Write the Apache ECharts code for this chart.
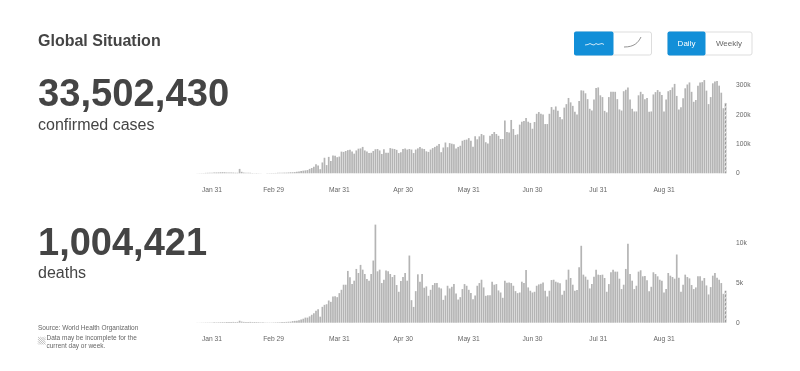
<!DOCTYPE html>
<html><head><meta charset="utf-8">
<style>html,body{margin:0;padding:0;background:#fff}#c{width:800px;height:371px}</style>
<script src="https://cdn.jsdelivr.net/npm/echarts@6/dist/echarts.min.js"></script>
</head><body><div id="c"></div>
<script>
const tickLabels = ['Jan 31','Feb 29','Mar 31','Apr 30','May 31','Jun 30','Jul 31','Aug 31'];
const monthNames = ['Jan','Feb','Mar','Apr','May','Jun','Jul','Aug','Sep'];
const monthLengths = [31,29,31,30,31,30,31,31,30];
// daily confirmed cases, thousands, Jan 24 .. Sep 29
const confirmedDaily = [
0.3,0.5,0.7,0.8,1.5,1.7,2,2,
2.5,2.8,3,3.5,3.8,3.5,3,2.8,2.6,2.5,2,2,15,
5,2.5,2,2,1.8,1,0.6,1,0.6,0.4,0.4,0.5,0.7,0.8,1,1.1,1.2,
1.8,2,1.9,2.2,2.3,2.8,3.5,3.5,4,5,6,7.5,9,10,11,15,18,22,
31,27,14,37,53,28,56,42,61,60,55,57,74,73,76,79,80,74,67,78,84,85,90,78,74,69,70,76,82,83,78,66,82,70,70,86,
84,83,80,69,72,83,85,81,83,81,69,81,85,90,85,83,75,73,81,86,90,94,100,72,88,105,89,103,101,99,85,90,94,111,114,115,120,111,91,126,116,126,134,130,106,102,128,134,141,134,128,117,117,180,141,139,182,151,131,133,166,176,178,189,176,172,152,175,203,209,203,201,168,168,203,226,217,228,213,192,184,224,236,257,
242,230,210,201,247,283,282,273,253,220,214,252,291,293,266,260,213,208,260,278,278,278,253,218,214,280,285,293,252,220,211,211,266,278,270,253,257,210,211,269,277,284,278,267,211,252,280,284,293,305,264,218,225,256,290,303,310,278,244,250,299,310,311,318,282,236,260,307,313,315,299,275,222,240];
// daily deaths, thousands, Jan 24 .. Sep 29
const deathsDaily = [
0.01,0.01,0.02,0.02,0.03,0.03,0.04,0.04,
0.05,0.05,0.06,0.07,0.08,0.07,0.08,0.09,0.1,0.1,0.09,0.1,0.25,
0.14,0.1,0.1,0.1,0.1,0.08,0.09,0.08,0.07,0.05,0.05,0.04,0.03,0.03,0.03,0.04,0.05,
0.06,0.07,0.08,0.09,0.1,0.12,0.13,0.2,0.23,0.25,0.3,0.4,0.5,0.64,0.64,0.8,1.0,1.2,
1.5,1.7,0.76,2.0,2.25,2.33,2.8,2.63,3.3,3.35,3.22,3.73,4.15,4.79,4.79,6.53,5.72,4.87,5.3,6.78,6.27,7.29,6.69,6.14,5.51,5.3,6.14,7.84,12.37,6.48,6.69,5.0,5.42,6.57,6.48,6.14,
5.76,6.02,4.75,3.9,5.25,5.76,6.27,5.3,8.47,2.84,1.99,3.98,6.1,5.17,6.14,4.41,4.58,3.39,4.15,4.75,5,5,4.45,4.32,2.88,3.43,4.66,4.32,4.53,4.87,3.69,2.92,3.22,4.24,4.87,4.66,4.15,3.73,2.97,3.43,4.66,5,5.42,4.45,3.39,3.47,3.47,5.17,4.79,4.87,4.07,3.81,3.14,5.3,5.04,5.08,5,4.66,3.98,3.73,3.81,5.17,5,6.65,4.45,4.03,3.81,3.9,4.66,4.83,4.92,5.08,4.03,3.31,4.03,5.38,5.42,5.17,5.08,4.96,3.52,4.03,5.42,6.69,
5.64,4.79,4.03,4.11,6.99,9.7,6.06,5.81,5.42,4.32,4.87,5.81,6.69,6.06,6.02,6.06,5.64,3.9,4.87,6.36,6.69,6.44,6.44,5.55,4.24,4.79,6.78,9.96,6.14,5.3,4.24,4.66,6.44,6.61,5.85,5.89,5.34,3.98,4.53,6.36,6.14,5.85,5.42,5.3,3.81,4.24,6.27,5.93,5.76,5.55,8.6,5.68,3.9,4.79,6.06,5.76,5.59,4.75,4.24,4.45,5.85,5.85,5.3,5.64,4.7,3.56,4.49,5.93,6.27,5.68,5.42,5,3.64,4.03];
const confirmedTicks = ['0','100k','200k','300k'];
const deathTicks = ['0','5k','10k'];

// category labels: day strings starting Jan 24
const categories = [];
let m = 0, day = 24;
for (let i = 0; i < confirmedDaily.length; i++) {
  categories.push(monthNames[m] + ' ' + day);
  day++;
  if (day > monthLengths[m]) { m++; day = 1; }
}

const FONT = '"Liberation Sans", Arial, Helvetica, sans-serif';
const BAR = '#b4b4b4';
const hatch = { symbol:'rect', symbolSize:1, dashArrayX:[1,0], dashArrayY:[1,1.2], rotation:-0.785, color:'rgba(255,255,255,0.85)' };
function bars(values, axisIdx) {
  return {
    type:'bar', xAxisIndex:axisIdx, yAxisIndex:axisIdx, barWidth:1.7, silent:true, animation:false,
    data: values.map((v,i)=> i === values.length-1
      ? { value:v, itemStyle:{ color:'#999', decal:hatch } }
      : v),
    itemStyle:{ color:BAR }
  };
}
function xAx(idx) {
  return { type:'category', gridIndex:idx, data:categories,
    axisLine:{show:false}, axisTick:{show:false}, splitLine:{show:false},
    axisLabel:{ show:true, color:'#666', fontSize:6.7, fontFamily:FONT, margin:13, hideOverlap:false,
      interval:(i,name)=> tickLabels.indexOf(name) >= 0 } };
}
function yAx(idx, max, interval, ticks) {
  return { type:'value', gridIndex:idx, position:'right', min:0, max, interval,
    axisLine:{show:false}, axisTick:{show:false}, splitLine:{show:false},
    axisLabel:{ color:'#666', fontSize:6.7, fontFamily:FONT, margin:9.5, showMaxLabel:false, padding:[2.5,0,0,0],
      formatter:(v)=> ticks[Math.round(v/interval)] } };
}
function txt(x,y,text,size,weight,fill,align,extra) {
  return { type:'text', silent:true, x, y, style:Object.assign({ text, font:(weight||'normal')+' '+size+'px '+FONT, fill:fill||'#444', textAlign:align||'left', textVerticalAlign:'middle' }, extra||{}) };
}
function box(x,y,w,h,fill,stroke,r) {
  return { type:'rect', silent:true, shape:{x,y,width:w,height:h,r:r||0}, style:{fill,stroke:stroke||null,lineWidth:1} };
}
function hatchLines(x,y,s) {
  const out = [];
  for (let k = 1; k < 2*s; k += 2.2) {
    const a = Math.min(k,s), b = Math.max(0,k-s);
    out.push({ type:'line', silent:true, shape:{x1:x+a,y1:y+s-(k-a),x2:x+b,y2:y+s-(k-b)}, style:{stroke:'#aaa',lineWidth:0.8} });
  }
  return out;
}
const graphics = [
  txt(38,41.5,'Global Situation',16,'bold','#444'),
  txt(38,95,'33,502,430',38.2,'bold','#444'),
  txt(38,126,'confirmed cases',16,'normal','#444'),
  txt(38,245,'1,004,421',38,'bold','#444'),
  txt(38,274,'deaths',16,'normal','#444'),
  txt(38,328,'Source: World Health Organization',6.5,'normal','#666'),
  txt(46.5,338,'Data may be incomplete for the',6.5,'normal','#666'),
  txt(46.5,346,'current day or week.',6.5,'normal','#666'),
  ...hatchLines(38,337,7.5),
  box(574.5,32,77,23,'#fff','#ddd',2),
  box(574,31.5,39.5,24,'#128fd8',null,2),
  box(668,32,84,23,'#fff','#ddd',2),
  box(667.5,31.5,38,24,'#128fd8',null,2),
  txt(686.5,43.8,'Daily',8,'normal','#fff','center'),
  txt(729,43.8,'Weekly',8,'normal','#666','center'),
  { type:'polyline', silent:true, shape:{points:[[585,45],[588,44.5],[590,43.5],[592,44.5],[594,45],[596,43.5],[598,44.5],[600,44],[602,43.5],[604,44.5]]}, style:{stroke:'#fff',fill:null,lineWidth:0.8} },
  { type:'bezierCurve', silent:true, shape:{x1:624,y1:47,x2:641,y2:37,cpx1:634,cpy1:47,cpx2:638,cpy2:43}, style:{stroke:'#777',fill:null,lineWidth:0.8} }
];
const chart = echarts.init(document.getElementById('c'), null, { width:800, height:371, renderer:'canvas' });
chart.setOption({
  animation:false, backgroundColor:'#fff',
  grid:[
    { left:196.1, right:73.4, top:79.5, height:93.8, containLabel:false },
    { left:196.1, right:73.4, top:222, height:100.7, containLabel:false }
  ],
  xAxis:[xAx(0), xAx(1)],
  yAxis:[yAx(0,320,100,confirmedTicks), yAx(1,12.7,5,deathTicks)],
  series:[bars(confirmedDaily,0), bars(deathsDaily,1)],
  graphic:{ elements:graphics }
});
</script></body></html>
